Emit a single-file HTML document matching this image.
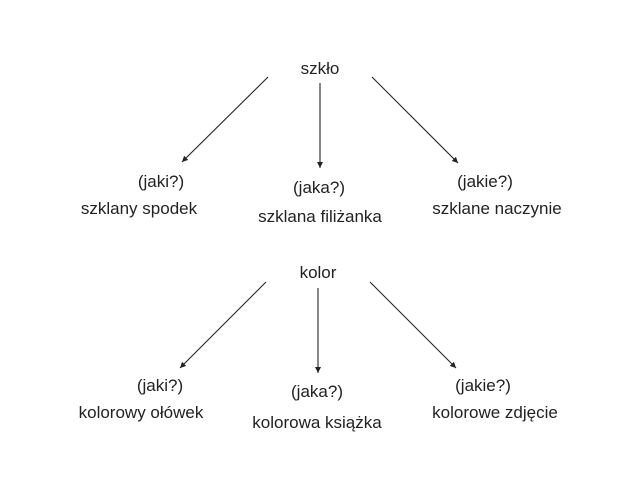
<!DOCTYPE html>
<html><head><meta charset="utf-8"><style>
html,body{margin:0;padding:0;background:#fff;}
svg{display:block;}
text{font-family:"Liberation Sans","DejaVu Sans",sans-serif;font-size:17px;fill:#222;text-anchor:middle;}
line{stroke:#222;stroke-width:1.1;}
</style></head><body>
<svg width="640" height="480" viewBox="0 0 640 480" xmlns="http://www.w3.org/2000/svg">
<defs><marker id="a" markerWidth="8" markerHeight="8" refX="6" refY="3" orient="auto" markerUnits="userSpaceOnUse"><path d="M0,0 L6,3 L0,6 z" fill="#222"/></marker></defs>
<text x="320" y="74">szkło</text>
<line x1="268" y1="77" x2="182" y2="162" marker-end="url(#a)"/>
<line x1="320" y1="83" x2="320" y2="168" marker-end="url(#a)"/>
<line x1="372" y1="77" x2="458" y2="163" marker-end="url(#a)"/>
<text x="161" y="187">(jaki?)</text>
<text x="139" y="214">szklany spodek</text>
<text x="319" y="193">(jaka?)</text>
<text x="320" y="222">szklana filiżanka</text>
<text x="485" y="187">(jakie?)</text>
<text x="497" y="214">szklane naczynie</text>

<text x="318" y="278">kolor</text>
<line x1="266" y1="282" x2="180" y2="368" marker-end="url(#a)"/>
<line x1="318" y1="288" x2="318" y2="373" marker-end="url(#a)"/>
<line x1="370" y1="282" x2="456" y2="368" marker-end="url(#a)"/>
<text x="160" y="391">(jaki?)</text>
<text x="141" y="418">kolorowy ołówek</text>
<text x="317" y="397">(jaka?)</text>
<text x="317" y="428">kolorowa książka</text>
<text x="483" y="391">(jakie?)</text>
<text x="495" y="418">kolorowe zdjęcie</text>
</svg>
</body></html>
